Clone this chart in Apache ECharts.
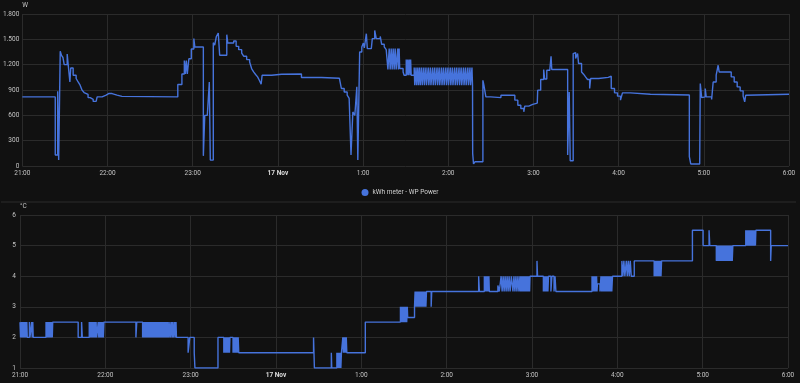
<!DOCTYPE html>
<html>
<head>
<meta charset="utf-8">
<script src="https://cdn.jsdelivr.net/npm/echarts@6/dist/echarts.min.js"></script>
<style>
html,body{margin:0;padding:0;background:#111111;}
#c{width:800px;height:383px;}
</style>
</head>
<body>
<div id="c"></div>
<script>
// x axis: minutes after 21:00 (16 Nov) up to 6:00 (17 Nov)
const xTickLabels = ['21:00','22:00','23:00','17 Nov','1:00','2:00','3:00','4:00','5:00','6:00'];
const powerTickLabels = ['0','300','600','900','1.200','1.500','1.800'];
const tempTickLabels = ['1','2','3','4','5','6'];
const powerSeriesName = 'kWh meter - WP Power';

// [minutes after 21:00, W]
const powerData = [
[0,818],[23.2,130],[24.9,886],[25.6,70],[26.7,1360],[27.6,1310],[28.6,1285],[29.5,1200],[31.6,1325],[32.3,1200],
[33.5,995],[34.1,1160],[35.8,1075],[37.9,1036],[39.3,995],[40.7,957],[42.1,898],[43.5,870],[44.9,847],[46.3,810],
[47.8,790],[49.9,765],[52.0,752],[52.7,818],[56.2,840],[59.0,860],[61.1,858],[63.2,840],[66.7,825],[70.2,818],
[109.5,965],[112.4,1090],[114.1,1250],[114.8,1090],[115.5,1250],[116.2,1090],[117.3,1270],[119.0,1385],[120.8,1510],[121.5,1410],
[127.5,120],[128.5,600],[130.3,580],[131.7,995],[132.4,70],[134.5,1460],[135.5,1430],[136.6,1530],[138.0,1575],[139.0,1311],
[144.0,1555],[144.7,1456],[148.9,1480],[150.6,1417],[152.4,1378],[154.5,1338],[155.9,1300],[158.0,1260],[160.1,1232],[161.5,1154],
[162.9,1114],[164.3,1083],[165.7,1055],[167.1,1010],[168.2,968],[168.9,1075],[175.6,1087],[182.6,1090],[196.6,1048],[210.7,1040],
[223.3,1030],[224.7,918],[226.7,877],[228.8,838],[230.2,800],[231.5,130],[232.8,640],[234.2,600],[235.6,937],[236.3,70],
[237.6,1350],[239.1,1410],[240.2,1456],[240.9,1400],[242.3,1567],[243.0,1390],[245.8,1378],[246.5,1508],[248.2,1606],[249.3,1508],
[252.1,1535],[253.1,1441],[254.9,1410],[256.3,1378],
[257.5,1142],[258.4,1390],[259.1,1142],[259.8,1390],[260.5,1142],[261.2,1390],[261.9,1142],[262.6,1390],[263.3,1142],[264.4,1390],
[264.9,1142],[265.4,1390],[265.8,1154],[268.2,1114],[268.9,1075],
[270.4,1260],[270.8,1075],[271.5,1260],[271.9,1075],[272.6,1260],[273.1,1075],[273.5,1260],[273.9,1075],
[276.0,1166],[276.4,957],[277.3,1166],[277.7,957],[278.6,1166],[279.0,957],[279.9,1166],[280.3,957],[281.3,1166],[281.7,957],
[282.8,1166],[283.2,957],[284.3,1166],[284.7,957],[285.9,1166],[286.3,957],[287.4,1166],[287.8,957],[289.0,1166],[289.4,957],
[290.5,1166],[290.9,957],[292.1,1166],[292.5,957],[293.6,1166],[294.0,957],[295.2,1166],[295.6,957],[296.7,1166],[297.1,957],
[298.3,1166],[298.7,957],[299.8,1166],[300.2,957],[301.4,1166],[301.8,957],[302.9,1166],[303.3,957],[304.5,1166],[304.9,957],
[306.0,1166],[306.4,957],[307.6,1166],[308.0,957],[309.1,1166],[309.5,957],[310.7,1166],[311.1,957],[312.2,1166],[312.6,957],
[313.8,1166],[314.2,957],[315.3,1166],[315.7,957],[316.7,1166],[317.1,957],
[317.2,150],[317.8,24],[318.8,50],[324.4,1015],[325.1,957],[326.5,818],[330.0,810],[337.1,838],[346.9,780],[349.0,720],
[351.1,681],[353.2,641],[353.9,709],[356.7,730],[359.5,745],[362.7,760],[363.0,898],[365.1,1024],[367.2,1142],[367.9,1030],
[369.4,1134],[371.5,1142],[372.4,1300],[372.9,1142],[384.1,130],[385.2,877],[385.9,63],[388.0,1331],[389.0,1343],[389.7,1272],
[391.1,1331],[391.8,1213],[393.9,1114],[395.3,1087],[396.7,1055],[398.1,1024],[399.6,918],[400.3,1036],[405.9,1050],[412.7,1063],
[414.8,918],[417.1,866],[419.2,827],[421.3,780],[422.7,866],[428.3,850],[442.4,840],[469.8,110],[470.8,24],[477.1,40],
[477.5,977],[478.5,810],[479.6,818],[481.0,918],[481.7,818],[485.5,788],[486.6,995],[488.7,1075],[490.1,1193],[490.8,1114],
[499.3,1055],[501.4,995],[503.5,937],[505.6,890],[507.7,827],[508.8,760],[509.5,838],[510.6,850],[540,847]
];

// [minutes after 21:00, °C]
const tempData = [
[0,2.5],[0.4,2],[0.8,2.5],[1.2,2],[1.6,2.5],[2.0,2],[2.4,2.5],[2.8,2],[3.2,2.5],[3.6,2],[4.0,2.5],[4.4,2],[4.8,2.5],[5.1,2],
[6.6,2.5],[7.0,2],[8.2,2.5],[8.6,2],[9.0,2.5],[9.3,2],
[18.3,2.5],[18.7,2],[19.1,2.5],[19.5,2],[19.9,2.5],[20.3,2],[20.7,2.5],[21.1,2],[21.5,2.5],[21.9,2],[22.3,2.5],[22.7,2],[23.0,2.5],
[40.9,2],[43.3,2.5],[43.8,2],
[48.7,2.5],[49.1,2],[49.5,2.5],[49.9,2],[50.3,2.5],[50.7,2],[51.1,2.5],[51.5,2],[51.9,2.5],[52.3,2],[52.7,2.5],[53.1,2],[53.5,2.5],[53.9,2],
[55.0,2.5],[55.4,2],[55.8,2.5],[56.2,2],[56.6,2.5],[57.0,2],[57.4,2.5],[57.8,2],[58.2,2.5],[58.6,2],[59.0,2.5],
[81.5,2],[82.1,2.5],
[86.2,2],[86.6,2.5],[87.0,2],[87.4,2.5],[87.8,2],[88.2,2.5],[88.6,2],[89.0,2.5],[89.4,2],[89.8,2.5],
[90.2,2],[90.6,2.5],[91.0,2],[91.4,2.5],[91.8,2],[92.2,2.5],[92.6,2],[93.0,2.5],[93.4,2],[93.8,2.5],
[94.2,2],[94.6,2.5],[95.0,2],[95.4,2.5],[95.8,2],[96.2,2.5],[96.6,2],[97.0,2.5],[97.4,2],[97.8,2.5],
[98.2,2],[98.6,2.5],[99.0,2],[99.4,2.5],[99.8,2],[100.2,2.5],[100.6,2],[101.0,2.5],[101.4,2],[101.8,2.5],
[102.2,2],[102.6,2.5],[103.0,2],[103.4,2.5],[103.8,2],[104.2,2.5],[104.6,2],[105.4,2.5],[105.7,2],[106.6,2.5],
[106.9,2],[107.6,2.5],[107.9,2],[108.8,2.5],[109.1,2],[109.7,2.5],[110.0,2],
[118.2,1.5],[119.4,2],[122.5,1.5],[123.0,1],
[139.2,2],
[143.3,1.5],[143.7,2],[144.1,1.5],[144.5,2],[144.9,1.5],[145.3,2],[145.7,1.5],[146.1,2],[146.5,1.5],[146.9,2],[147.3,1.5],[147.6,2],
[149.8,1.5],[150.2,2],[150.6,1.5],[151.0,2],[151.4,1.5],[151.8,2],[152.2,1.5],[152.6,2],[153.0,1.5],[153.4,2],[153.8,1.5],
[206.4,2],[207.0,1],
[218.9,1.5],[219.2,1],
[222.8,1.5],[223.2,1],[223.6,1.5],[224.0,1],[224.4,1.5],[224.8,1],[225.2,1.5],[225.6,1],[226.0,1.5],
[227.0,2],[227.4,1.5],[227.8,2],[228.2,1.5],[228.6,2],[229.0,1.5],[229.4,2],[229.8,1.5],
[242.8,2.5],
[267.5,3],[267.9,2.5],[268.3,3],[268.7,2.5],[269.1,3],[269.5,2.5],[269.9,3],[270.3,2.5],[270.7,3],[271.1,2.5],[271.5,3],[271.9,2.5],[272.3,3],[272.6,2.65],
[277.4,3],[277.8,3.5],[278.2,3],[278.6,3.5],[279.0,3],[279.4,3.5],[279.8,3],[280.2,3.5],[280.6,3],[281.0,3.5],
[281.4,3],[281.8,3.5],[282.2,3],[282.6,3.5],[283.0,3],[283.4,3.5],[283.8,3],[284.2,3.5],[284.6,3],[285.0,3.5],[285.4,3],[285.8,3.5],
[289.1,3],[289.5,3.5],
[322.5,4],[323.0,3.5],
[326.5,4],[326.9,3.5],[327.3,4],[327.7,3.5],[328.1,4],[328.5,3.5],[328.9,4],[329.3,3.5],[329.7,4],[330.0,3.5],
[336.0,3.7],[337.0,3.5],[338.3,4],[339.0,3.5],[339.7,4],[340.4,3.5],[341.1,4],[341.8,3.5],[342.5,4],[343.2,3.5],
[343.9,4],[344.6,3.5],[345.5,4],[346.6,3.5],[347.3,4],[348.0,3.5],[348.7,4],[349.4,3.5],[350.1,4],[350.8,3.5],
[351.5,4],[351.9,3.5],[352.3,4],[352.7,3.5],[353.1,4],[353.5,3.5],[353.9,4],[354.3,3.5],[354.7,4],[355.1,3.5],
[355.5,4],[355.9,3.5],[356.3,4],[356.7,3.5],[357.1,4],[357.5,3.5],[357.9,4],[358.3,3.5],[358.6,4],
[363.5,4.5],[363.9,4],
[368.0,3.5],[368.4,4],[368.8,3.5],[369.2,4],[369.6,3.5],[370.0,4],[370.4,3.5],[370.8,4],[371.2,3.5],[371.6,4],
[373.3,3.5],[374.0,4],[375.5,3.5],[376.2,4],[376.8,3.5],
[402.2,4],[402.6,3.5],[403.0,4],[403.4,3.5],[403.8,4],[404.2,3.5],[404.6,4],[405.0,3.5],[405.4,4],[405.7,3.5],
[406.0,3.75],[407.8,3.5],
[408.5,4],[408.9,3.5],[409.3,4],[409.7,3.5],[410.1,4],[410.5,3.5],[410.9,4],[411.3,3.5],[411.7,4],[412.1,3.5],
[412.5,4],[412.9,3.5],[413.3,4],[413.7,3.5],[414.1,4],[414.5,3.5],[414.9,4],[415.3,3.5],[415.7,4],[416.1,3.5],[416.6,4],
[423.2,4.5],[423.9,4],[424.6,4.5],[425.3,4],[426.3,4.5],[427.0,4],[427.7,4.5],[428.4,4],[429.1,4.5],[429.8,4],
[431.9,4.5],
[445.9,4],[446.3,4.5],[446.7,4],[447.1,4.5],[447.5,4],[447.9,4.5],[448.3,4],[448.7,4.5],[449.1,4],[449.5,4.5],
[449.9,4],[450.3,4.5],[450.7,4],[451.1,4.5],
[472.8,5.5],[480.3,5],[484.5,5.5],[485.0,5],
[489.6,4.5],[490.0,5],[490.4,4.5],[490.8,5],[491.2,4.5],[491.6,5],[492.0,4.5],[492.4,5],[492.8,4.5],[493.2,5],
[493.6,4.5],[494.0,5],[494.4,4.5],[494.8,5],[495.2,4.5],[495.6,5],[496.0,4.5],[496.4,5],[496.8,4.5],[497.2,5],
[497.6,4.5],[498.0,5],[498.4,4.5],[498.8,5],[499.2,4.5],[499.6,5],[500.0,4.5],[500.4,5],[500.8,4.5],[501.2,5],
[510.3,5.5],[510.7,5],[511.1,5.5],[511.5,5],[511.9,5.5],[512.3,5],[512.7,5.5],[513.1,5],[513.5,5.5],[513.9,5],
[514.3,5.5],[514.7,5],[515.1,5.5],[515.5,5],[515.9,5.5],[516.3,5],[516.7,5.5],[517.1,5],[517.4,5.5],
[527.8,4.5],[528.2,5],
[540,5]
];

const FONT = 'Roboto, "Noto Sans", sans-serif';
const LINE = '#4673dc';
const GRID = '#2b2b2b';
const LABEL = '#c4c4c4';

function xLabel(v){
  const i = Math.round(v/60);
  const s = xTickLabels[i];
  return i === 3 ? '{b|' + s + '}' : s;
}
function xAxisCfg(gridIndex){
  return {
    type:'value', gridIndex, min:0, max:540, interval:60,
    axisLine:{show:false}, axisTick:{show:false},
    splitLine:{show:true, lineStyle:{color:GRID, width:1}},
    axisLabel:{color:LABEL, fontSize:6.5, fontFamily:FONT, margin:4, formatter:xLabel,
      rich:{b:{fontWeight:'bold', color:'#dddddd', fontSize:6.5, fontFamily:FONT}}}
  };
}

const chart = echarts.init(document.getElementById('c'), null, {renderer:'canvas'});
chart.setOption({
  backgroundColor:'#111111',
  animation:false,
  textStyle:{fontFamily:FONT},
  grid:[
    {left:20, right:11, top:14, height:152},
    {left:20, right:12, top:215, height:153}
  ],
  legend:{
    data:[powerSeriesName], icon:'circle', itemWidth:7, itemHeight:7, itemGap:8,
    left:'center', top:184,
    textStyle:{color:'#d0d0d0', fontSize:6.5, fontFamily:FONT, padding:[0,0,0,-1]}
  },
  graphic:[{
    type:'line', shape:{x1:1, y1:202, x2:796, y2:202},
    style:{stroke:'#2c2c2c', lineWidth:1.2}, silent:true
  }],
  xAxis:[xAxisCfg(0), xAxisCfg(1)],
  yAxis:[
    {type:'value', gridIndex:0, min:0, max:1800, interval:300, name:'W', nameLocation:'end', nameGap:5,
     nameTextStyle:{color:LABEL, fontSize:6.5, fontFamily:FONT, align:'left', padding:[0,0,0,0]},
     axisLine:{show:false}, axisTick:{show:false},
     splitLine:{lineStyle:{color:GRID, width:1}},
     axisLabel:{color:LABEL, fontSize:6.5, fontFamily:FONT, margin:3,
       formatter:(v)=>powerTickLabels[Math.round(v/300)]}},
    {type:'value', gridIndex:1, min:1, max:6, interval:1, name:'°C', nameLocation:'end', nameGap:5,
     nameTextStyle:{color:LABEL, fontSize:6.5, fontFamily:FONT, align:'left'},
     axisLine:{show:false}, axisTick:{show:false},
     splitLine:{lineStyle:{color:GRID, width:1}},
     axisLabel:{color:LABEL, fontSize:6.5, fontFamily:FONT, margin:4,
       formatter:(v)=>tempTickLabels[Math.round(v-1)]}}
  ],
  series:[
    {name:powerSeriesName, type:'line', xAxisIndex:0, yAxisIndex:0, data:powerData, step:'end',
     showSymbol:false, symbol:'none', sampling:null, color:LINE,
     lineStyle:{color:LINE, width:1.4}},
    {name:'temp', type:'line', xAxisIndex:1, yAxisIndex:1, data:tempData, step:'end',
     showSymbol:false, symbol:'none', sampling:null, color:LINE,
     lineStyle:{color:LINE, width:1.4}}
  ]
});
</script>
</body>
</html>
